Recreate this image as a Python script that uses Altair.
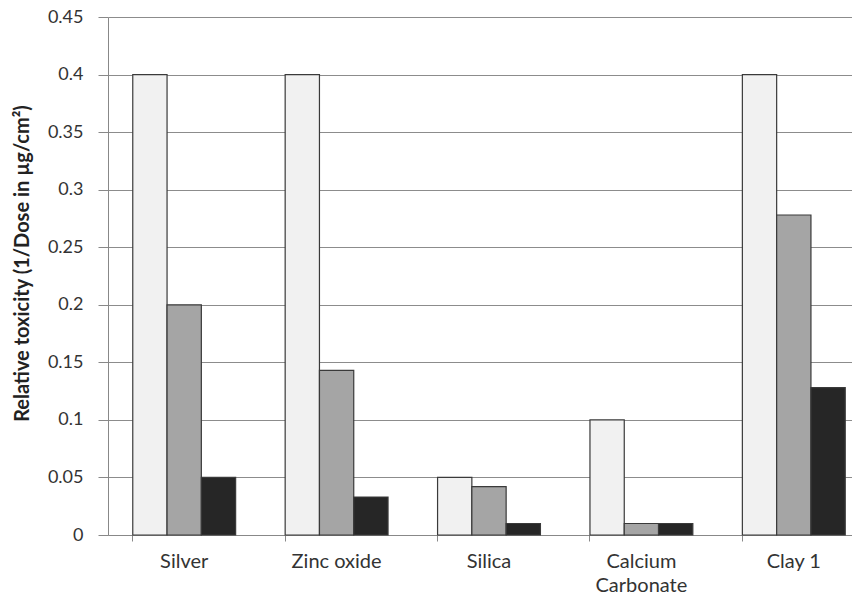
import altair as alt
import pandas as pd

categories = ["Silver", "Zinc oxide", "Silica", "Calcium|Carbonate", "Clay 1"]
series_names = ["Series 1", "Series 2", "Series 3"]
series1 = [0.4, 0.4, 0.05, 0.1, 0.4]
series2 = [0.2, 0.143, 0.042, 0.01, 0.278]
series3 = [0.05, 0.033, 0.01, 0.01, 0.128]
colors = ["#f1f1f1", "#a5a5a5", "#262626"]
y_ticks = [0, 0.05, 0.1, 0.15, 0.2, 0.25, 0.3, 0.35, 0.4, 0.45]

rows = []
for name, vals in zip(series_names, [series1, series2, series3]):
    for c, v in zip(categories, vals):
        rows.append({"category": c, "series": name, "value": v})
df = pd.DataFrame(rows)

FONT = "Lato"

bars = alt.Chart(df).mark_bar(stroke="#3a3a3a", strokeWidth=1.2).encode(
    x=alt.X("category:N", sort=categories,
            scale=alt.Scale(range=[0, 762], paddingInner=0.325, paddingOuter=0.1625),
            axis=alt.Axis(title=None, labelAngle=0, labelExpr="split(datum.label, '|')",
                          labelFontSize=20, labelColor="#333333", labelFont=FONT,
                          labelPadding=10, labelLineHeight=24,
                          bandPosition=0, tickSize=6, tickColor="#888888",
                          domainColor="#888888", grid=False)),
    xOffset=alt.XOffset("series:N", sort=series_names,
                        scale=alt.Scale(paddingInner=0, paddingOuter=0)),
    y=alt.Y("value:Q",
            scale=alt.Scale(domain=[0, 0.45], nice=False),
            axis=alt.Axis(title="Relative toxicity (1/Dose in µg/cm²)", values=y_ticks,
                          format=".2~f", labelFontSize=18, labelColor="#333333",
                          labelFont=FONT, labelPadding=15, tickSize=10,
                          tickColor="#888888", domainColor="#888888",
                          gridColor="#8c8c8c", gridWidth=1.2,
                          titleFont=FONT, titleFontSize=20, titleFontWeight="bold",
                          titleColor="#222222", titlePadding=15, titleY=246)),
    color=alt.Color("series:N", sort=series_names,
                    scale=alt.Scale(domain=series_names, range=colors), legend=None),
)

chart = bars.properties(
    width=744, height=518,
    autosize=alt.AutoSizeParams(type="none"),
    padding={"left": 100, "top": 9, "right": 0, "bottom": 62},
).configure_view(stroke=None)

chart.save("out.html", embed_options={"renderer": "svg", "actions": False})
